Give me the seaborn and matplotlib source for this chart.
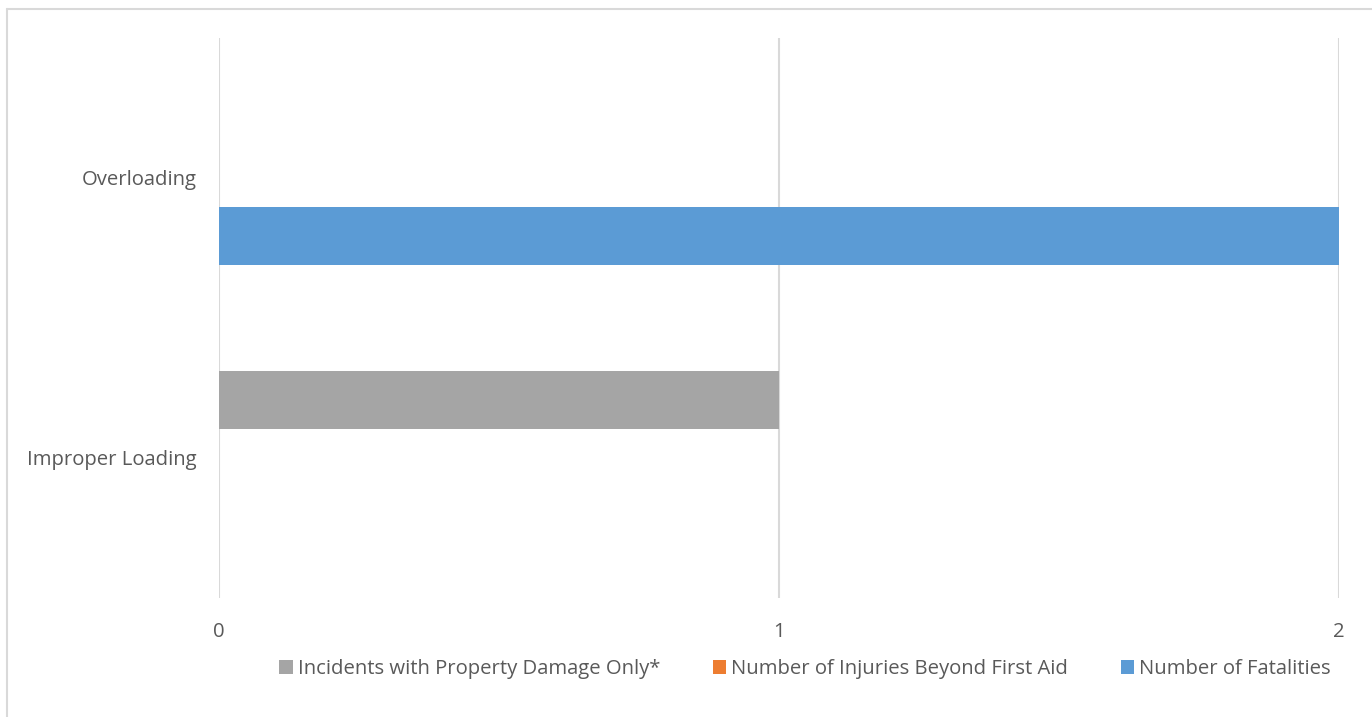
import matplotlib
matplotlib.use("Agg")
import matplotlib.pyplot as plt
from matplotlib.lines import Line2D
import seaborn as sns
import pandas as pd

# data
categories = ["Overloading", "Improper Loading"]
series = ["Incidents with Property Damage Only*",
          "Number of Injuries Beyond First Aid",
          "Number of Fatalities"]
property_damage = [0, 1]
injuries = [0, 0]
fatalities = [2, 0]
x_ticks = [0, 1, 2]

colors = ["#a5a5a5", "#ed7d31", "#5b9bd5"]

rows = []
for name, vals in zip(series, [property_damage, injuries, fatalities]):
    for cat, v in zip(categories, vals):
        rows.append({"category": cat, "series": name, "value": v})
df = pd.DataFrame(rows)

sns.set_theme(style="white")
plt.rcParams["font.family"] = ["Open Sans", "DejaVu Sans"]
text_color = "#595959"
fs = 14.6

fig = plt.figure(figsize=(13.72, 7.17), dpi=100)
ax = fig.add_axes([219 / 1372, 1 - 598 / 717, (1339 - 219) / 1372, 560 / 717])

sns.barplot(data=df, x="value", y="category", hue="series", order=categories,
            hue_order=series, palette=colors, orient="h", width=0.62, gap=0,
            saturation=1, linewidth=0, ax=ax, legend=True)

ax.set_xlim(0, 2)
ax.set_ylim(1.5, -0.5)
ax.set_xticks(x_ticks)
ax.set_xticklabels([str(t) for t in x_ticks])
ax.grid(axis="x", color="#d9d9d9", linewidth=1.5)
ax.set_axisbelow(True)
for s in ax.spines.values():
    s.set_visible(False)
ax.set_xlabel("")
ax.set_ylabel("")
ax.tick_params(axis="x", length=0, pad=17, labelsize=fs, labelcolor=text_color)
ax.tick_params(axis="y", length=0, pad=16, labelsize=fs, labelcolor=text_color)

handles, labels = ax.get_legend_handles_labels()
ax.get_legend().remove()
fig.legend(handles, labels, loc="center", bbox_to_anchor=(805 / 1372, 1 - 669 / 717),
           ncol=3, frameon=False, fontsize=fs, labelcolor=text_color,
           handlelength=0.65, handleheight=0.65, handletextpad=0.25, columnspacing=2.6)

# outer chart border (only left and top edges visible in the crop)
border = dict(transform=fig.transFigure, color="#d9d9d9", linewidth=1.5)
fig.lines.append(Line2D([6.5 / 1372, 6.5 / 1372], [0, 1 - 9 / 717], **border))
fig.lines.append(Line2D([6.5 / 1372, 1], [1 - 9 / 717, 1 - 9 / 717], **border))

fig.savefig("out.png", dpi=100)
